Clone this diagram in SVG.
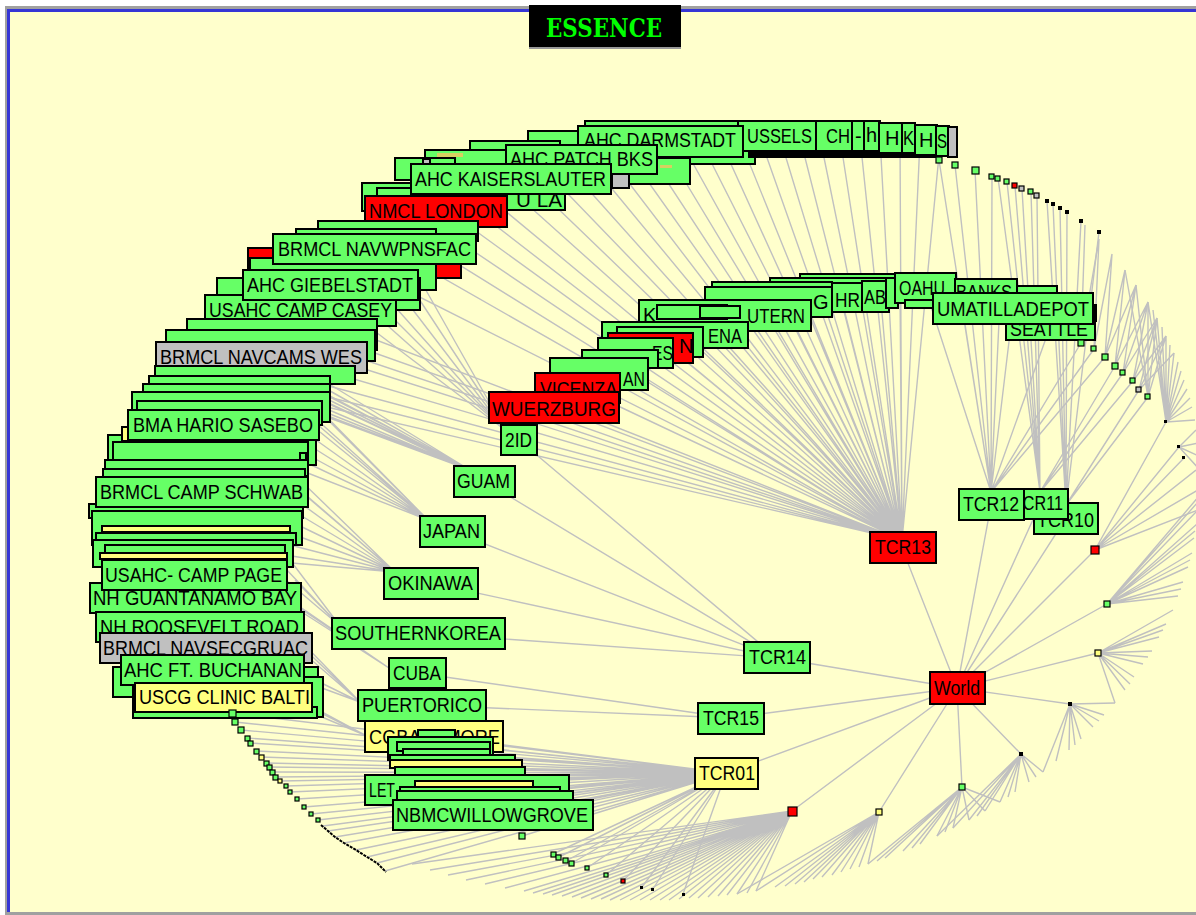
<svg xmlns="http://www.w3.org/2000/svg" width="1196" height="915" viewBox="0 0 1196 915">
<style>
.e{fill:none;stroke:#c0c0c0;stroke-width:1.4}
.b{stroke:#000;stroke-width:2}
.s{stroke:#000;stroke-width:1.2}
.g{fill:#66ff66}
.r{fill:#ff0000}
.y{fill:#ffff80}
.k{fill:#c0c0c0}
.d{fill:#000}
.t{font-family:"Liberation Sans",Arial,sans-serif;font-size:20px;fill:#000}
</style>
<g id="frame">
<rect x="0" y="0" width="1196" height="915" fill="#ffffff"/>
<rect x="9" y="12" width="1187" height="900" fill="#ffffcc"/>
<rect x="5" y="6" width="1191" height="3" fill="#a0a0a0"/>
<rect x="5" y="9" width="1191" height="3" fill="#3535d5"/>
<rect x="5" y="6" width="2" height="906" fill="#a0a0a0"/>
<rect x="7" y="9" width="3" height="903" fill="#3535d5"/>
<rect x="5" y="912" width="1191" height="3" fill="#a0a0a0"/>
</g>
<g id="connectors" class="e">
<path d="M957 688L902 548M957 688L777 658M957 688L730 718M957 688L726 773M957 688L792 811M957 688L879 812M957 688L962 787M957 688L1021 754M957 688L1070 704M957 688L1098 653M957 688L1107 604M957 688L1095 550M957 688L1066 518M957 688L1040 504M957 688L991 505"/>
<path d="M902 540L300 311M902 540L310 330M902 540L320 345M902 540L330 358M902 540L330 372M902 540L325 385M902 540L320 395M902 540L318 405M902 540L350 262M902 540L380 242M902 540L400 228M902 540L420 215M902 540L440 205M902 540L460 198M902 540L480 190M902 540L500 180M902 540L520 172M902 540L540 165M902 540L560 158M902 540L580 150M902 540L600 145M902 540L620 142M902 540L640 140M902 540L660 140M902 540L680 140M902 540L700 140M902 540L720 140M902 540L740 140M902 540L760 138M902 540L780 138M902 540L800 138M902 540L820 138M902 540L840 138M902 540L860 138M902 540L880 138M902 540L900 138M902 540L920 140M902 540L940 145M902 540L560 405M902 540L580 388M902 540L600 375M902 540L620 362M902 540L640 350M902 540L660 340M902 540L680 330M902 540L700 320M902 540L720 312M902 540L740 305M902 540L760 300M902 540L780 296M902 540L800 293M902 540L820 292M902 540L840 293M902 540L860 293M902 540L880 290M902 540L900 288"/>
<path d="M991 492L925 288M991 492L960 292M991 492L1000 300M991 492L1013 308M991 492L1050 327M991 492L1081 343M991 492L1094 349M991 492L1105 357M991 492L939 160M991 492L955 165M991 492L975 170M991 492L992 177"/>
<path d="M1040 492L998 178M1040 492L1007 182M1040 492L1015 186M1040 492L1022 189M1040 492L1031 192M1040 492L1037 196M1040 492L1115 366M1040 492L1123 373M1040 492L1133 381"/>
<path d="M1066 505L1047 201M1066 505L1053 204M1066 505L1060 208M1066 505L1067 212M1066 505L1081 221M1066 505L1099 232M1066 505L1139 390M1066 505L1148 397"/>
<path d="M1095 550L1166 422M1095 550L1179 447M1095 550L1184 458M1095 550L1196 470M1095 550L1198 490M1095 550L1198 510"/>
<path d="M777 658L519 440M777 658L484 481M777 658L452 531M777 658L431 583M777 658L418 633M731 718L417 673M731 718L422 705"/>
<path d="M726 773L434 736M726 773L450 745M726 773L470 755M726 773L490 762M726 773L510 770M726 773L520 780M726 773L540 790M726 773L555 795M726 773L560 805M726 773L500 815M726 773L522 836M726 773L553 854M726 773L559 857M726 773L566 861M726 773L572 863M726 773L587 868M726 773L606 875M726 773L623 881M726 773L642 887M726 773L653 889M726 773L683 894M726 773L232 713M726 773L235 722M726 773L241 730M726 773L247 738M726 773L250 743M726 773L256 751M726 773L261 757M726 773L266 763M726 773L269 767M726 773L272 772M726 773L275 777M726 773L280 781M726 773L286 786M726 773L290 792M726 773L297 799M726 773L304 807M726 773L311 814M726 773L318 820M726 773L323 826M726 773L328 831M726 773L335 837M726 773L344 843M726 773L356 850M726 773L367 857M726 773L377 863M726 773L385 871"/>
<path d="M470 470L320 385M470 470L320 392M470 470L318 398M470 470L315 404M470 470L312 410M470 470L310 395M470 470L305 388M470 470L300 380M470 470L295 400M470 470L300 407M470 470L310 380M470 470L316 376"/>
<path d="M428 520L315 418M428 520L318 425M428 520L320 432M428 520L316 440M428 520L312 447M428 520L308 455M428 520L305 462M428 520L300 470M428 520L318 410M428 520L314 404"/>
<path d="M395 572L300 480M395 572L305 495M395 572L303 505M395 572L300 515M395 572L298 525M395 572L295 535M395 572L290 545M395 572L285 555M395 572L280 562M395 572L300 490"/>
<path d="M340 626L280 575M340 626L285 568M340 626L290 560M340 626L295 580M505 430L360 320M505 430L370 310M505 430L375 300M505 430L380 290M505 430L390 280M505 430L400 270M505 430L410 262"/>
<path d="M392 670L280 598M392 670L290 600M392 670L295 605M360 702L290 630M360 702L295 640M360 702L300 650M360 702L295 670M360 702L300 680M367 736L300 700M367 736L305 705M367 736L310 712"/>
<path d="M1107 604L1200 495M1107 604L1199 509M1107 604L1197 524M1107 604L1194 538M1107 604L1192 553M1107 604L1188 567M1107 604L1183 582M1107 604L1178 596M1107 604L1198 502M1107 604L1195 531M1107 604L1190 560M1107 604L1181 589"/>
<path d="M1098 653L1173 610M1098 653L1166 624M1098 653L1159 637M1098 653L1152 651M1098 653L1143 664M1098 653L1134 677M1098 653L1125 690M1098 653L1115 703M1098 653L1163 630M1098 653L1148 657M1098 653L1130 684"/>
<path d="M1070 704L1115 703M1070 704L1104 715M1070 704L1093 727M1070 704L1081 739M1070 704L1069 750M1070 704L1056 761M1070 704L1043 772M1070 704L1099 721M1070 704L1075 745"/>
<path d="M1021 754L1043 772M1021 754L1029 782M1021 754L1015 792M1021 754L1000 802M1021 754L985 811M1021 754L969 820M1021 754L953 828M1021 754L937 836M1021 754L1036 777M1021 754L1008 797M1021 754L977 816"/>
<path d="M962 787L1000 802M962 787L985 811M962 787L969 820M962 787L953 828M962 787L937 836M962 787L920 844M962 787L903 851M962 787L885 858M962 787L868 864M962 787L945 832M962 787L912 848M962 787L877 861"/>
<path d="M879 812L868 864M879 812L850 869M879 812L832 875M879 812L813 879M879 812L795 884M879 812L775 887M879 812L756 891M879 812L737 894M879 812L859 867M879 812L841 872M879 812L822 877M879 812L804 882M879 812L785 886"/>
<path d="M792 811L756 891M792 811L737 894M792 811L718 896M792 811L698 898M792 811L679 899M792 811L660 900M792 811L640 900M792 811L620 900M792 811L601 899M792 811L581 898M792 811L562 896M792 811L543 894M792 811L524 891M792 811L505 888M792 811L485 884M792 811L466 880M792 811L448 875M792 811L430 870M792 811L412 864M792 811L747 893M792 811L727 895M792 811L708 897M792 811L689 898M792 811L669 900M792 811L650 900M792 811L630 900M792 811L610 900M792 811L591 899M792 811L572 897M792 811L552 895M792 811L533 893"/>
<path d="M1166 422L1148 302M1166 422L1157 318M1166 422L1166 336M1166 422L1174 353M1166 422L1181 371M1166 422L1187 389M1166 422L1192 407M1166 422L1195 420M1166 422L1153 310M1166 422L1162 327M1166 422L1170 345M1166 422L1178 362M1166 422L1184 380M1166 422L1190 398M1179 447L1196 430M1179 447L1198 443M1179 447L1199 456M1179 447L1200 470M1148 397L1125 270M1148 397L1136 285M1148 397L1148 302M1148 397L1157 318M1148 397L1166 336"/>
<path d="M1081 343L1085 225M1081 343L1099 239M1094 349L1099 239M1094 349L1112 254M1105 357L1112 254M1105 357L1125 270M1105 357L1136 285M1115 366L1125 270M1115 366L1136 285M1115 366L1148 302M1123 373L1136 285M1123 373L1148 302M1123 373L1157 318M1133 381L1148 302M1133 381L1157 318M1133 381L1166 336M1139 390L1157 318M1139 390L1166 336M1139 390L1174 353"/>
</g>
<g id="title">
<rect x="529" y="5" width="152" height="42" fill="#000"/>
<rect x="529" y="47" width="152" height="2" fill="#999"/>
<text x="546" y="37" font-family="'DejaVu Serif','Liberation Serif',serif" font-stretch="condensed" font-weight="bold" font-size="26" fill="#00ff00" textLength="116" lengthAdjust="spacingAndGlyphs">ESSENCE</text>
</g>
<g id="top-arc-stack">
<rect class="b g" x="585" y="121" width="160" height="12"/>
<rect class="b g" x="528" y="131" width="120" height="14"/>
<rect class="b g" x="470" y="141" width="90" height="16"/>
<rect class="b g" x="425" y="150" width="100" height="16"/>
<rect class="b g" x="395" y="158" width="60" height="22"/>
<rect class="b g" x="640" y="150" width="115" height="14"/>
<rect class="b g" x="575" y="158" width="115" height="26"/>
<rect class="b k" x="612" y="168" width="17" height="20"/>
<rect class="b k" x="423" y="159" width="7" height="5"/>
<rect fill="#d8d060" x="437" y="153" width="26" height="4"/>
<rect fill="#d8d060" x="660" y="165" width="12" height="3"/>
<rect class="b g" x="362" y="183" width="60" height="28"/>
<rect class="b g" x="377" y="188" width="188" height="22"/>
<text class="t" x="516" y="207" textLength="46" lengthAdjust="spacingAndGlyphs">U LA</text>
</g>
<g id="top-right-stack">
<rect class="d" x="748" y="150" width="190" height="8"/>
<g id="n-brussels"><rect class="b g" x="738" y="121" width="80" height="30"/><text class="t" x="747" y="143" textLength="65" lengthAdjust="spacingAndGlyphs">USSELS</text></g>
<g id="n-ch"><rect class="b g" x="816" y="121" width="37" height="30"/><text class="t" x="826" y="143" textLength="24" lengthAdjust="spacingAndGlyphs">CH</text></g>
<g id="n-dash"><rect class="b g" x="852" y="121" width="13" height="30"/><text class="t" x="855" y="143">-</text></g>
<g id="n-h1"><rect class="b g" x="864" y="121" width="16" height="30"/><text class="t" x="866" y="142">h</text></g>
<g id="n-h2"><rect class="b g" x="879" y="123" width="24" height="30"/><text class="t" x="885" y="145">H</text></g>
<g id="n-k"><rect class="b g" x="902" y="123" width="13" height="30"/><text class="t" x="903" y="145" textLength="11" lengthAdjust="spacingAndGlyphs">K</text></g>
<g id="n-h3"><rect class="b g" x="915" y="125" width="22" height="30"/><text class="t" x="919" y="147">H</text></g>
<g id="n-s"><rect class="b g" x="936" y="126" width="13" height="30"/><text class="t" x="937" y="148" textLength="10" lengthAdjust="spacingAndGlyphs">S</text></g>
<rect class="b k" x="948" y="127" width="9" height="30"/>
</g>
<g id="n-ahc-darmstadt"><rect class="b g" x="578" y="126" width="165" height="31"/><text class="t" x="584" y="147" textLength="152" lengthAdjust="spacingAndGlyphs">AHC DARMSTADT</text></g>
<g id="n-ahc-patch"><rect class="b g" x="506" y="145" width="151" height="29"/><text class="t" x="510" y="166" textLength="143" lengthAdjust="spacingAndGlyphs">AHC PATCH BKS</text></g>
<g id="n-ahc-kaiserslauter"><rect class="b g" x="411" y="164" width="200" height="30"/><text class="t" x="415" y="186" textLength="191" lengthAdjust="spacingAndGlyphs">AHC KAISERSLAUTER</text></g>
<g id="n-nmcl-london"><rect class="b r" x="365" y="196" width="142" height="31"/><text class="t" x="369" y="218" textLength="134" lengthAdjust="spacingAndGlyphs">NMCL LONDON</text></g>
<g id="left-upper-stack">
<rect class="b g" x="318" y="221" width="160" height="20"/>
<rect class="b g" x="296" y="229" width="140" height="20"/>
<rect class="b r" x="248" y="248" width="213" height="30"/>
<rect class="b g" x="250" y="258" width="186" height="32"/>
</g>
<g id="n-brmcl-navwpnsfac"><rect class="b g" x="273" y="234" width="203" height="30"/><text class="t" x="278" y="256" textLength="193" lengthAdjust="spacingAndGlyphs">BRMCL NAVWPNSFAC</text></g>
<rect class="b g" x="217" y="278" width="203" height="32"/>
<g id="n-usahc-camp-casey"><rect class="b g" x="205" y="295" width="191" height="31"/><text class="t" x="209" y="317" textLength="183" lengthAdjust="spacingAndGlyphs">USAHC CAMP CASEY</text></g>
<g id="n-ahc-giebelstadt"><rect class="b g" x="243" y="270" width="175" height="30"/><text class="t" x="247" y="292" textLength="166" lengthAdjust="spacingAndGlyphs">AHC GIEBELSTADT</text></g>
<g id="left-mid-stack-1">
<rect class="b g" x="187" y="319" width="190" height="31"/>
<rect class="b g" x="166" y="330" width="209" height="31"/>
</g>
<g id="n-brmcl-navcams-wes"><rect class="b k" x="156" y="342" width="211" height="31"/><text class="t" x="160" y="364" textLength="202" lengthAdjust="spacingAndGlyphs">BRMCL NAVCAMS WES</text></g>
<g id="left-mid-stack-2">
<rect class="b g" x="155" y="366" width="200" height="18"/>
<rect class="b g" x="149" y="376" width="181" height="18"/>
<rect class="b g" x="143" y="384" width="187" height="20"/>
<rect class="b g" x="132" y="392" width="198" height="30"/>
<rect class="b g" x="137" y="401" width="185" height="24"/>
<rect class="b g" x="108" y="435" width="208" height="30"/>
<rect class="b g" x="113" y="442" width="195" height="24"/>
<rect class="b g" x="300" y="453" width="6" height="7"/>
<rect class="b g" x="105" y="460" width="203" height="16"/>
<rect class="b g" x="103" y="469" width="202" height="10"/>
<rect class="b y" x="122" y="427" width="10" height="14"/>
</g>
<g id="n-bma-hario-sasebo"><rect class="b g" x="128" y="410" width="191" height="30"/><text class="t" x="133" y="432" textLength="180" lengthAdjust="spacingAndGlyphs">BMA HARIO SASEBO</text></g>
<g id="left-low-stack">
<rect class="b g" x="89" y="504" width="214" height="14"/>
<rect class="b g" x="92" y="511" width="210" height="34"/>
<rect class="b y" x="102" y="526" width="188" height="6"/>
<rect class="b g" x="96" y="533" width="200" height="12"/>
<rect class="b g" x="93" y="540" width="200" height="27"/>
<rect class="b g" x="105" y="545" width="180" height="14"/>
<rect class="b y" x="100" y="553" width="187" height="6"/>
</g>
<g id="n-brmcl-camp-schwab"><rect class="b g" x="96" y="477" width="212" height="30"/><text class="t" x="100" y="499" textLength="203" lengthAdjust="spacingAndGlyphs">BRMCL CAMP SCHWAB</text></g>
<g id="n-nh-guantanamo-bay"><rect class="b g" x="90" y="583" width="211" height="30"/><text class="t" x="93" y="605" textLength="204" lengthAdjust="spacingAndGlyphs">NH GUANTANAMO BAY</text></g>
<g id="n-usahc-camp-page"><rect class="b g" x="102" y="560" width="185" height="30"/><text class="t" x="105" y="582" textLength="177" lengthAdjust="spacingAndGlyphs">USAHC- CAMP PAGE</text></g>
<g id="n-nh-roosevelt-road"><rect class="b g" x="96" y="612" width="208" height="30"/><text class="t" x="100" y="634" textLength="199" lengthAdjust="spacingAndGlyphs">NH ROOSEVELT ROAD</text></g>
<g id="n-brmcl-navsecgruac"><rect class="b k" x="100" y="633" width="212" height="30"/><text class="t" x="103" y="655" textLength="205" lengthAdjust="spacingAndGlyphs">BRMCL NAVSECGRUAC</text></g>
<g id="left-bottom-stack">
<rect class="b g" x="113" y="667" width="205" height="30"/>
<rect class="b g" x="133" y="677" width="190" height="40"/>
</g>
<g id="n-ahc-ft-buchanan"><rect class="b g" x="121" y="655" width="183" height="30"/><text class="t" x="124" y="677" textLength="178" lengthAdjust="spacingAndGlyphs">AHC FT. BUCHANAN</text></g>
<rect class="b g" x="133" y="707" width="184" height="11"/>
<g id="n-uscg-clinic-balti"><rect class="b y" x="135" y="683" width="177" height="29"/><text class="t" x="139" y="704" textLength="171" lengthAdjust="spacingAndGlyphs">USCG CLINIC BALTI</text></g>
<g id="inner-arc-right">
<rect class="b g" x="800" y="274" width="100" height="10"/>
<rect class="b g" x="770" y="278" width="125" height="10"/>
<rect class="b g" x="712" y="282" width="120" height="10"/>
<rect class="b g" x="705" y="287" width="127" height="30"/>
<text class="t" x="813" y="309">G</text>
<g id="n-hr"><rect class="b g" x="832" y="283" width="31" height="29"/><text class="t" x="835" y="307" textLength="25" lengthAdjust="spacingAndGlyphs">HR</text></g>
<g id="n-ab"><rect class="b g" x="862" y="281" width="27" height="31"/><text class="t" x="864" y="304" textLength="22" lengthAdjust="spacingAndGlyphs">AB</text></g>
<rect class="b g" x="886" y="278" width="12" height="30"/>
<g id="n-oahu"><rect class="b g" x="895" y="273" width="61" height="30"/><text class="t" x="899" y="295" textLength="46" lengthAdjust="spacingAndGlyphs">OAHU</text></g>
<rect class="b g" x="905" y="300" width="35" height="8"/>
<g id="n-banks"><rect class="b g" x="955" y="279" width="62" height="28"/><text class="t" x="956" y="299" textLength="56" lengthAdjust="spacingAndGlyphs">BANKS</text></g>
<rect class="b g" x="1017" y="286" width="40" height="14"/>
<g id="n-seattle"><rect class="b g" x="1006" y="306" width="89" height="34"/><text class="t" x="1010" y="336" textLength="78" lengthAdjust="spacingAndGlyphs">SEATTLE</text></g>
<rect class="d" x="1092" y="304" width="5" height="18"/>
</g>
<g id="n-umatilladepot"><rect class="b g" x="933" y="293" width="160" height="31"/><text class="t" x="937" y="316" textLength="152" lengthAdjust="spacingAndGlyphs">UMATILLADEPOT</text></g>
<g id="inner-arc-left">
<g id="n-kaiserslautern"><rect class="b g" x="639" y="300" width="172" height="31"/><text class="t" x="643" y="322">K</text><text class="t" x="747" y="323" textLength="58" lengthAdjust="spacingAndGlyphs">UTERN</text></g>
<rect class="b g" x="657" y="305" width="70" height="14"/>
<rect class="b g" x="700" y="306" width="40" height="12"/>
<g id="n-dena"><rect class="b g" x="602" y="322" width="146" height="26"/><text class="t" x="708" y="343" textLength="34" lengthAdjust="spacingAndGlyphs">ENA</text></g>
<rect class="b g" x="617" y="327" width="86" height="30"/>
<g id="n-red-n"><rect class="b r" x="608" y="333" width="85" height="30"/><text class="t" x="679" y="353">N</text></g>
<g id="n-es"><rect class="b g" x="598" y="338" width="75" height="30"/><text class="t" x="652" y="360" textLength="21" lengthAdjust="spacingAndGlyphs">ES</text></g>
<rect class="b g" x="582" y="350" width="76" height="18"/>
<g id="n-an"><rect class="b g" x="550" y="358" width="98" height="32"/><text class="t" x="623" y="386" textLength="22" lengthAdjust="spacingAndGlyphs">AN</text></g>
</g>
<g id="n-vicenza"><rect class="b r" x="535" y="373" width="85" height="30"/><text class="t" x="540" y="396" textLength="77" lengthAdjust="spacingAndGlyphs">VICENZA</text></g>
<g id="n-wuerzburg"><rect class="b r" x="489" y="392" width="130" height="31"/><text class="t" x="492" y="416" textLength="124" lengthAdjust="spacingAndGlyphs">WUERZBURG</text></g>
<g id="n-2id"><rect class="b g" x="501" y="425" width="36" height="30"/><text class="t" x="505" y="447" textLength="27" lengthAdjust="spacingAndGlyphs">2ID</text></g>
<g id="n-guam"><rect class="b g" x="454" y="466" width="61" height="31"/><text class="t" x="457" y="488" textLength="53" lengthAdjust="spacingAndGlyphs">GUAM</text></g>
<g id="n-japan"><rect class="b g" x="420" y="516" width="65" height="31"/><text class="t" x="423" y="538" textLength="57" lengthAdjust="spacingAndGlyphs">JAPAN</text></g>
<g id="n-okinawa"><rect class="b g" x="384" y="568" width="94" height="31"/><text class="t" x="388" y="590" textLength="85" lengthAdjust="spacingAndGlyphs">OKINAWA</text></g>
<g id="n-southernkorea"><rect class="b g" x="332" y="618" width="173" height="31"/><text class="t" x="335" y="640" textLength="166" lengthAdjust="spacingAndGlyphs">SOUTHERNKOREA</text></g>
<g id="n-cuba"><rect class="b g" x="389" y="658" width="57" height="30"/><text class="t" x="393" y="680" textLength="48" lengthAdjust="spacingAndGlyphs">CUBA</text></g>
<g id="n-puertorico"><rect class="b g" x="358" y="690" width="128" height="31"/><text class="t" x="362" y="712" textLength="120" lengthAdjust="spacingAndGlyphs">PUERTORICO</text></g>
<g id="n-cgbaltimore"><rect class="b y" x="365" y="721" width="138" height="31"/><text class="t" x="369" y="744" textLength="131" lengthAdjust="spacingAndGlyphs">CGBALTIMORE</text></g>
<g id="bottom-stack">
<rect class="b g" x="418" y="730" width="37" height="8"/>
<rect class="b g" x="388" y="737" width="105" height="23"/>
<rect class="b g" x="397" y="742" width="93" height="9"/>
<rect class="b g" x="403" y="749" width="87" height="7"/>
<rect class="b g" x="390" y="755" width="125" height="7"/>
<rect class="b y" x="390" y="760" width="132" height="8"/>
<rect class="b g" x="395" y="767" width="130" height="8"/>
</g>
<g id="n-lett"><rect class="b g" x="365" y="775" width="204" height="30"/><text class="t" x="369" y="797" textLength="26" lengthAdjust="spacingAndGlyphs">LET</text></g>
<g id="bottom-stack-2">
<rect class="b y" x="415" y="781" width="118" height="6"/>
<rect class="b g" x="400" y="787" width="160" height="6"/>
<rect class="b g" x="397" y="791" width="176" height="9"/>
</g>
<g id="n-nbmcwillowgrove"><rect class="b g" x="393" y="800" width="200" height="30"/><text class="t" x="396" y="822" textLength="192" lengthAdjust="spacingAndGlyphs">NBMCWILLOWGROVE</text></g>
<g id="n-tcr13"><rect class="b r" x="870" y="532" width="66" height="31"/><text class="t" x="875" y="554" textLength="56" lengthAdjust="spacingAndGlyphs">TCR13</text></g>
<g id="n-tcr10"><rect class="b g" x="1034" y="503" width="64" height="31"/><text class="t" x="1037" y="527" textLength="57" lengthAdjust="spacingAndGlyphs">TCR10</text></g>
<g id="n-tcr11"><rect class="b g" x="1005" y="489" width="63" height="30"/><text class="t" x="1013" y="510" textLength="50" lengthAdjust="spacingAndGlyphs">TCR11</text></g>
<g id="n-tcr12"><rect class="b g" x="959" y="489" width="65" height="31"/><text class="t" x="963" y="511" textLength="56" lengthAdjust="spacingAndGlyphs">TCR12</text></g>
<g id="n-tcr14"><rect class="b g" x="744" y="642" width="66" height="31"/><text class="t" x="749" y="664" textLength="57" lengthAdjust="spacingAndGlyphs">TCR14</text></g>
<g id="n-tcr15"><rect class="b g" x="698" y="703" width="66" height="31"/><text class="t" x="703" y="725" textLength="56" lengthAdjust="spacingAndGlyphs">TCR15</text></g>
<g id="n-tcr01"><rect class="b y" x="695" y="758" width="63" height="31"/><text class="t" x="699" y="780" textLength="56" lengthAdjust="spacingAndGlyphs">TCR01</text></g>
<g id="n-world"><rect class="b r" x="930" y="672" width="55" height="32"/><text class="t" x="934" y="695" textLength="46" lengthAdjust="spacingAndGlyphs">World</text></g>
<g id="leaves">
<rect id="l-r1" class="s r" x="1091" y="546" width="8" height="8"/>
<rect id="l-b1" class="s g" x="1104" y="601" width="6" height="6"/>
<rect id="l-b2" class="s y" x="1095" y="650" width="6" height="6"/>
<rect id="l-b3" class="d" x="1068" y="702" width="4" height="4"/>
<rect id="l-b4" class="d" x="1019" y="752" width="4" height="4"/>
<rect id="l-b5" class="s g" x="959" y="784" width="6" height="6"/>
<rect id="l-b6" class="s y" x="876" y="809" width="6" height="6"/>
<rect id="l-b7" class="s r" x="788" y="807" width="9" height="9"/>
<rect id="l-t1" class="s g" x="936" y="157" width="6" height="6"/>
<rect id="l-t2" class="s g" x="952" y="162" width="6" height="6"/>
<rect id="l-t3" class="s g" x="972" y="167" width="7" height="7"/>
<rect id="l-t4" class="s g" x="989" y="174" width="5" height="5"/>
<rect id="l-t5" class="s g" x="995" y="176" width="5" height="5"/>
<rect id="l-t6" class="s g" x="1004" y="179" width="5" height="5"/>
<rect id="l-t7" class="s r" x="1012" y="183" width="5" height="5"/>
<rect id="l-t8" class="s k" x="1019" y="186" width="5" height="5"/>
<rect id="l-t9" class="s g" x="1028" y="189" width="5" height="5"/>
<rect id="l-t10" class="s k" x="1034" y="193" width="5" height="5"/>
<rect id="l-t11" class="d" x="1045" y="199" width="4" height="4"/>
<rect id="l-t12" class="d" x="1051" y="202" width="4" height="4"/>
<rect id="l-t13" class="d" x="1058" y="206" width="4" height="4"/>
<rect id="l-t14" class="d" x="1065" y="210" width="4" height="4"/>
<rect id="l-t15" class="d" x="1079" y="219" width="4" height="4"/>
<rect id="l-t16" class="d" x="1097" y="230" width="4" height="4"/>
<rect id="l-m1" class="s g" x="1078" y="340" width="6" height="6"/>
<rect id="l-m2" class="s g" x="1091" y="346" width="5" height="5"/>
<rect id="l-m3" class="s g" x="1102" y="354" width="6" height="6"/>
<rect id="l-m4" class="s g" x="1112" y="363" width="6" height="6"/>
<rect id="l-m5" class="s g" x="1120" y="370" width="5" height="5"/>
<rect id="l-m6" class="s g" x="1130" y="378" width="5" height="5"/>
<rect id="l-m7" class="s k" x="1136" y="387" width="5" height="5"/>
<rect id="l-m8" class="s g" x="1145" y="394" width="5" height="5"/>
<rect id="l-m9" class="d" x="1164" y="420" width="3" height="3"/>
<rect id="l-m10" class="d" x="1177" y="445" width="3" height="3"/>
<rect id="l-m11" class="d" x="1182" y="456" width="3" height="3"/>
<rect id="l-w1" class="s g" x="519" y="833" width="6" height="6"/>
<rect id="l-s1" class="s g" x="551" y="852" width="5" height="5"/>
<rect id="l-s2" class="s g" x="556" y="855" width="5" height="5"/>
<rect id="l-s3" class="s g" x="563" y="858" width="5" height="5"/>
<rect id="l-s4" class="s g" x="569" y="861" width="5" height="5"/>
<rect id="l-s5" class="s g" x="585" y="866" width="4" height="4"/>
<rect id="l-s6" class="s g" x="604" y="873" width="4" height="4"/>
<rect id="l-s7" class="s r" x="621" y="879" width="4" height="4"/>
<rect id="l-s8" class="d" x="640" y="886" width="3" height="3"/>
<rect id="l-s9" class="d" x="651" y="888" width="3" height="3"/>
<rect id="l-s10" class="d" x="682" y="893" width="3" height="3"/>
<rect id="l-c1" class="s g" x="229" y="710" width="7" height="7"/>
<rect id="l-c2" class="s g" x="232" y="719" width="6" height="6"/>
<rect id="l-c3" class="s g" x="238" y="727" width="6" height="6"/>
<rect id="l-c4" class="s g" x="245" y="736" width="5" height="5"/>
<rect id="l-c5" class="s g" x="248" y="741" width="5" height="5"/>
<rect id="l-c6" class="s g" x="254" y="749" width="5" height="5"/>
<rect id="l-c7" class="s y" x="259" y="755" width="5" height="5"/>
<rect id="l-c8" class="s g" x="264" y="761" width="5" height="5"/>
<rect id="l-c9" class="s g" x="267" y="765" width="5" height="5"/>
<rect id="l-c10" class="s g" x="270" y="770" width="5" height="5"/>
<rect id="l-c11" class="s g" x="273" y="775" width="5" height="5"/>
<rect id="l-c12" class="s y" x="278" y="779" width="4" height="4"/>
<rect id="l-c13" class="s g" x="284" y="784" width="4" height="4"/>
<rect id="l-c14" class="s g" x="288" y="790" width="4" height="4"/>
<rect id="l-c15" class="s g" x="295" y="797" width="4" height="4"/>
<rect id="l-c16" class="s g" x="302" y="805" width="4" height="4"/>
<rect id="l-c17" class="s g" x="309" y="812" width="4" height="4"/>
<rect id="l-c18" class="s g" x="316" y="818" width="4" height="4"/>
<path id="l-chain-tail" d="M321 825L328 831L335 837L344 843L356 850L367 857L377 863L386 872" fill="none" stroke="#000" stroke-width="2" stroke-dasharray="3 1"/>
</g>
</svg>
